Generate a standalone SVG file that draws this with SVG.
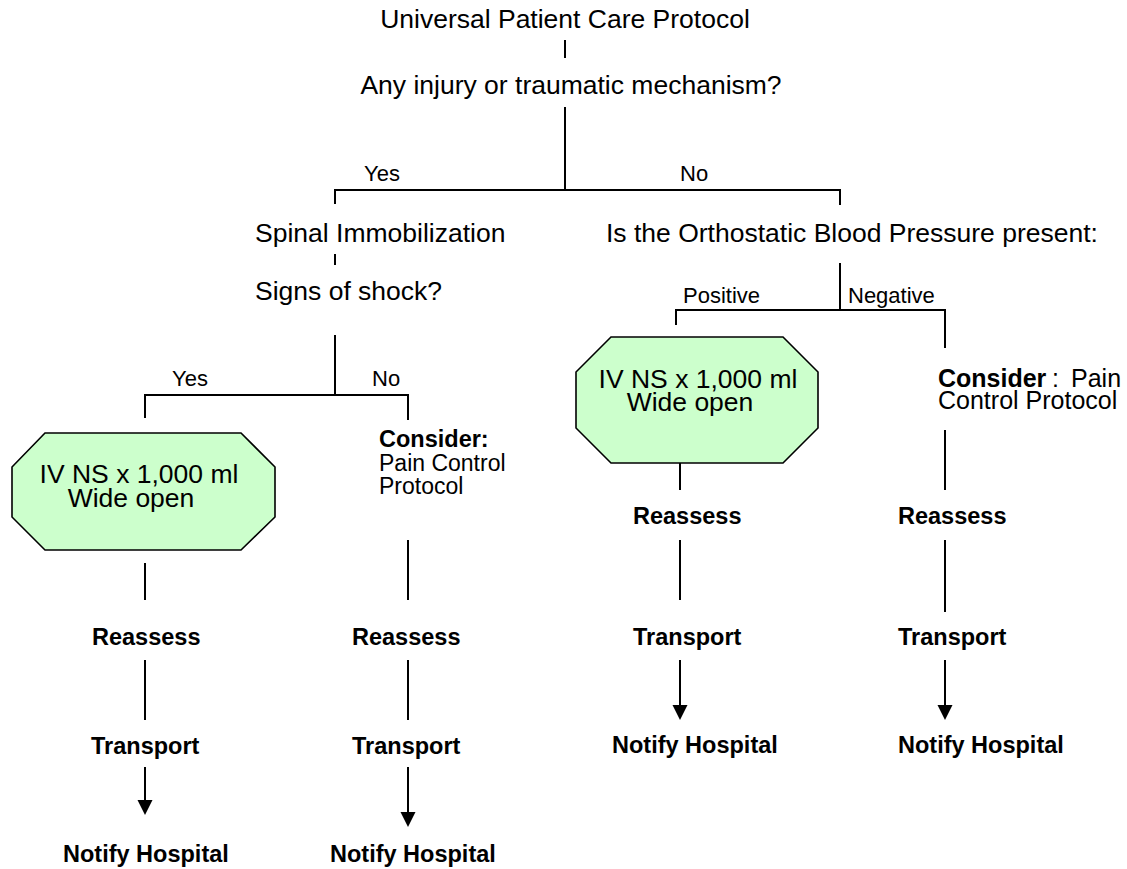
<svg xmlns="http://www.w3.org/2000/svg" width="1127" height="869" viewBox="0 0 1127 869">
  <style>
    text { font-family: "Liberation Sans", Arial, Helvetica, sans-serif; fill: #000; }
    .main { font-size: 26.5px; }
    .lbl { font-size: 22px; }
    .small { font-size: 23px; }
    .side { font-size: 25px; }
    .bold { font-size: 23.5px; font-weight: bold; }
    .b { font-weight: bold; }
    .mid { text-anchor: middle; }
    .line { fill: none; stroke: #000; stroke-width: 2; }
    .oct { fill: #CCFFCC; stroke: #000; stroke-width: 1.6; }
  </style>
  <defs>
    <!-- arrowhead, tip at the origin, pointing down -->
    <path id="head" d="M-7.5,-15 L7.5,-15 L0,0 Z" fill="#000"/>
  </defs>
  <rect width="1127" height="869" fill="#fff"/>

  <!-- connectors -->
  <g id="connectors">
    <path class="line" d="M565,40 V58"/>
    <path class="line" d="M565,107 V190"/>
    <path class="line" d="M335,204 V190 H840 V205"/>
    <path class="line" d="M335,254 V265"/>
    <path class="line" d="M335,335 V395"/>
    <path class="line" d="M145,418 V395 H408 V420"/>
    <path class="line" d="M145,563 V600"/>
    <path class="line" d="M408,540 V600"/>
    <path class="line" d="M145,660 V720"/>
    <path class="line" d="M408,660 V720"/>
    <path class="line" d="M145,767 V804"/>
    <use href="#head" x="145" y="815"/>
    <path class="line" d="M408,767 V816"/>
    <use href="#head" x="408" y="827"/>

    <path class="line" d="M840,263 V310"/>
    <path class="line" d="M676,325 V310 H945 V348"/>
    <path class="line" d="M680,463 V490"/>
    <path class="line" d="M945,430 V490"/>
    <path class="line" d="M680,540 V600"/>
    <path class="line" d="M945,540 V612"/>
    <path class="line" d="M680,660 V709"/>
    <use href="#head" x="680" y="720"/>
    <path class="line" d="M945,660 V709"/>
    <use href="#head" x="945" y="720"/>
  </g>

  <!-- branch labels -->
  <g id="labels">
    <text class="lbl" x="364" y="181">Yes</text>
    <text class="lbl" x="680" y="181">No</text>
    <text class="lbl" x="172" y="386">Yes</text>
    <text class="lbl" x="372" y="386">No</text>
    <text class="lbl" x="683" y="303">Positive</text>
    <text class="lbl" x="848" y="303">Negative</text>
  </g>

  <g id="n-universal">
    <text class="main mid" x="565" y="28">Universal Patient Care Protocol</text>
  </g>
  <g id="n-injury">
    <text class="main mid" x="571" y="94">Any injury or traumatic mechanism?</text>
  </g>
  <g id="n-spinal">
    <text class="main" x="255" y="242">Spinal Immobilization</text>
  </g>
  <g id="n-shock">
    <text class="main" x="255" y="300">Signs of shock?</text>
  </g>
  <g id="n-orthostatic">
    <text class="main" x="606" y="242">Is the Orthostatic Blood Pressure present:</text>
  </g>

  <!-- left branch: shock -->
  <g id="n-iv-left">
    <polygon class="oct" points="45,433 241,433 275,467 275,517 241,550 45,550 12,517 12,467"/>
    <text class="main mid" x="139" y="483">IV NS x 1,000 ml</text>
    <text class="main mid" x="131" y="507">Wide open</text>
  </g>
  <g id="n-consider-left">
    <text class="bold" x="379" y="447">Consider:</text>
    <text class="small" x="379" y="471">Pain Control</text>
    <text class="small" x="379" y="494">Protocol</text>
  </g>
  <g id="n-reassess-1"><text class="bold" x="92" y="645">Reassess</text></g>
  <g id="n-reassess-2"><text class="bold" x="352" y="645">Reassess</text></g>
  <g id="n-transport-1"><text class="bold" x="91" y="754">Transport</text></g>
  <g id="n-transport-2"><text class="bold" x="352" y="754">Transport</text></g>
  <g id="n-notify-1"><text class="bold" x="63" y="862">Notify Hospital</text></g>
  <g id="n-notify-2"><text class="bold" x="330" y="862">Notify Hospital</text></g>

  <!-- right branch: orthostatic -->
  <g id="n-iv-right">
    <polygon class="oct" points="611,337 783,337 818,372 818,428 783,463 611,463 576,428 576,372"/>
    <text class="main mid" x="698" y="388">IV NS x 1,000 ml</text>
    <text class="main mid" x="690" y="411">Wide open</text>
  </g>
  <g id="n-consider-right">
    <text class="side b" x="938" y="387">Consider</text>
    <text class="side" x="1052" y="387">:</text>
    <text class="side" x="1071" y="387">Pain</text>
    <text class="side" x="938" y="409">Control Protocol</text>
  </g>
  <g id="n-reassess-3"><text class="bold" x="633" y="524">Reassess</text></g>
  <g id="n-reassess-4"><text class="bold" x="898" y="524">Reassess</text></g>
  <g id="n-transport-3"><text class="bold" x="633" y="645">Transport</text></g>
  <g id="n-transport-4"><text class="bold" x="898" y="645">Transport</text></g>
  <g id="n-notify-3"><text class="bold" x="612" y="753">Notify Hospital</text></g>
  <g id="n-notify-4"><text class="bold" x="898" y="753">Notify Hospital</text></g>
</svg>
